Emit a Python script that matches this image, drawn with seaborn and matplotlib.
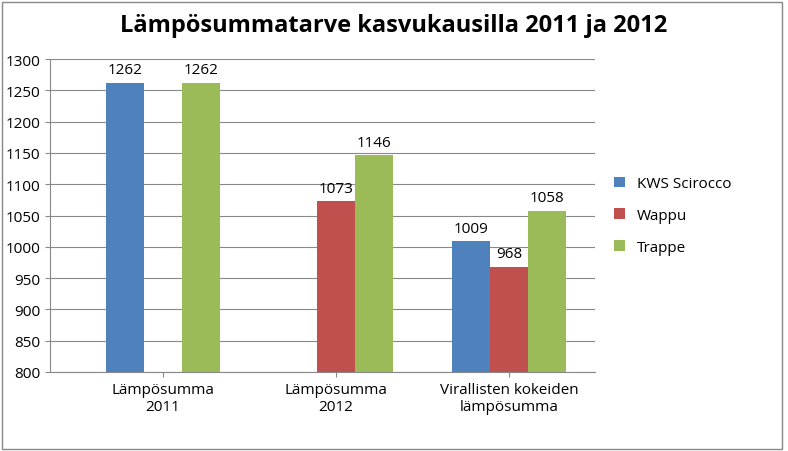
import numpy as np
import pandas as pd
import matplotlib
matplotlib.use("Agg")
import matplotlib.pyplot as plt
import seaborn as sns

categories = ["Lämpösumma\n2011", "Lämpösumma\n2012", "Virallisten kokeiden\nlämpösumma"]
series = ["KWS Scirocco", "Wappu", "Trappe"]
kws = [1262, np.nan, 1009]
wappu = [np.nan, 1073, 968]
trappe = [1262, 1146, 1058]
colors = ["#4F81BD", "#C0504D", "#9BBB59"]

rows = []
for s, vals in zip(series, [kws, wappu, trappe]):
    for c, v in zip(categories, vals):
        rows.append({"cat": c, "series": s, "value": v})
df = pd.DataFrame(rows)

plt.rcParams["font.family"] = "Open Sans"
fig = plt.figure(figsize=(7.88, 4.52), dpi=100)
ax = fig.add_axes([0.0635, 0.175, 0.6915, 0.692])
sns.barplot(data=df, x="cat", y="value", hue="series", palette=colors,
            width=0.66, ax=ax, saturation=1, zorder=3)
ax.set_xlim(-0.653, 2.497)
ax.set_ylim(800, 1300)
ax.set_yticks(range(800, 1301, 50))
ax.yaxis.grid(True, color="#888888", linewidth=0.8, zorder=0)
ax.set_axisbelow(True)
ax.set_xlabel("")
ax.set_ylabel("")
for sp in ["top", "right"]:
    ax.spines[sp].set_visible(False)
for sp in ["left", "bottom"]:
    ax.spines[sp].set_color("#888888")
ax.tick_params(axis="both", labelsize=11, color="#888888")
for cont in ax.containers:
    labels = ["" if np.isnan(v) else f"{int(v)}" for v in cont.datavalues]
    ax.bar_label(cont, labels=labels, padding=4, fontsize=11)
ax.legend(loc="center left", bbox_to_anchor=(1.01, 0.5), frameon=False,
          fontsize=11, handlelength=0.7, handleheight=0.7, labelspacing=1.1)
fig.suptitle("Lämpösummatarve kasvukausilla 2011 ja 2012", fontsize=17,
             fontweight="bold", y=0.97)
fig.patches.append(plt.Rectangle((0.002, 0.004), 0.99, 0.99, transform=fig.transFigure,
                                 fill=False, edgecolor="#888888", linewidth=1))
fig.savefig("out.png", dpi=100)
